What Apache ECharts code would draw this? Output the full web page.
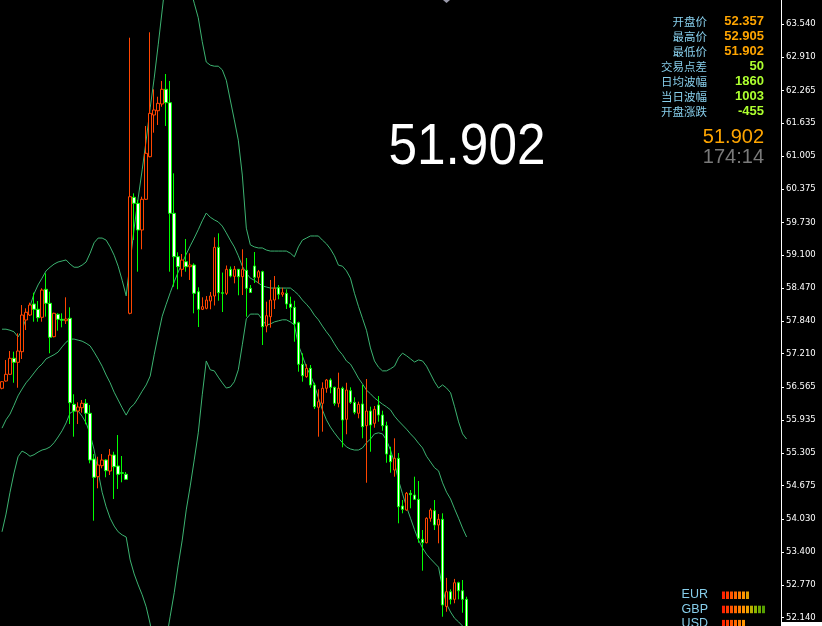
<!DOCTYPE html>
<html><head><meta charset="utf-8">
<style>html,body{margin:0;padding:0;background:#000;}#c{width:822px;height:626px;}</style>
<script src="https://cdn.jsdelivr.net/npm/echarts@6/dist/echarts.min.js"></script>
</head><body><div id="c"></div>
<script>
// ---- data ----
const slotCount = 195; // bar slots on the time axis (chart shift leaves the right part empty)
const priceTicks = [52.140,52.770,53.400,54.030,54.675,55.305,55.935,56.565,57.210,57.840,58.470,59.100,59.730,60.375,61.005,61.635,62.265,62.910,63.540];
const priceMin = 51.981, priceMax = 64.001;
// [open, close, low, high]
const candles = [
[56.545,56.672,56.526,56.685],[56.685,56.814,56.672,57.088],[56.814,57.121,56.800,57.261],[57.121,57.044,56.652,57.248],[57.044,57.261,56.556,57.601],
[57.248,57.952,57.108,58.144],[57.856,58.004,57.664,58.081],[57.952,58.144,57.933,58.189],[58.164,58.062,57.824,58.381],[58.062,57.901,57.824,58.221],
[57.908,58.432,57.824,58.465],[58.446,58.177,57.920,58.753],[58.177,57.524,57.217,58.400],[57.536,57.985,57.524,57.997],[57.966,57.870,57.651,57.985],
[57.870,57.851,57.716,57.985],[57.843,57.876,57.780,58.292],[57.889,56.268,55.859,58.100],[56.238,56.109,55.616,56.430],[56.109,56.186,55.859,56.276],
[56.172,56.257,56.077,56.320],[56.257,56.065,55.854,56.339],[56.065,55.168,55.105,56.224],[55.187,54.836,54.003,55.283],[54.848,55.072,54.625,55.231],
[55.059,55.168,55.009,55.283],[55.168,54.963,54.836,55.182],[54.957,55.264,54.880,55.379],[55.264,55.040,54.419,55.327],[55.053,54.894,54.611,55.648],
[54.924,54.913,54.740,55.245],[54.894,54.797,54.784,54.938],[57.985,60.224,57.966,63.277],[60.212,60.097,59.393,60.289],[60.097,59.585,58.784,60.161],
[59.585,60.174,59.214,60.224],[60.174,61.057,60.161,61.582],[60.992,61.825,60.981,63.381],[61.793,61.889,61.453,62.286],[61.875,62.017,61.601,62.144],
[62.004,62.286,61.952,62.446],[62.286,62.029,61.582,62.580],[62.029,59.905,58.784,62.446],[59.905,59.072,58.496,60.673],[59.072,58.880,58.446,59.156],
[58.830,59.008,58.688,59.124],[58.976,58.880,58.784,59.412],[58.880,58.912,58.625,59.137],[58.912,58.369,57.985,58.945],[58.400,58.062,57.722,58.484],
[58.062,58.112,58.048,58.292],[58.081,58.240,58.062,58.317],[58.221,58.317,58.062,58.394],[58.317,59.252,58.135,59.444],[59.252,58.381,58.227,59.521],
[58.381,58.369,58.010,58.768],[58.369,58.830,58.336,58.903],[58.830,58.701,58.676,58.884],[58.695,58.830,58.561,58.893],[58.830,58.688,58.331,58.830],
[58.688,58.830,58.336,59.214],[58.811,58.465,57.920,59.047],[58.465,58.385,58.375,58.528],[58.893,58.676,58.567,59.162],[58.676,58.784,58.557,58.817],
[58.784,57.728,57.376,58.803],[57.741,57.939,57.620,58.208],[57.920,58.240,57.709,58.625],[58.240,58.465,58.068,58.701],[58.477,58.350,58.254,58.528],
[58.350,58.381,58.304,58.477],[58.369,58.164,58.068,58.446],[58.164,58.100,57.856,58.304],[58.100,57.780,57.440,58.227],[57.805,57.006,56.864,57.824],
[57.006,56.787,56.672,57.217],[56.768,56.929,56.748,57.006],[56.929,56.608,56.556,56.992],[56.608,56.192,56.147,56.652],[56.180,56.288,55.616,56.526],
[56.257,56.545,55.712,56.660],[56.545,56.704,56.460,56.723],[56.704,56.564,56.449,56.737],[56.564,56.257,56.211,56.576],[56.257,56.545,56.180,56.845],
[56.545,55.936,55.412,56.576],[55.950,56.512,55.662,56.652],[56.499,56.276,56.244,56.564],[56.276,56.084,56.045,56.372],[56.065,56.238,55.969,56.288],
[56.244,55.808,55.585,56.608],[55.827,56.109,54.732,56.723],[56.109,55.840,55.327,56.192],[55.873,56.142,55.788,56.205],[56.224,56.032,55.904,56.397],
[56.032,55.827,55.731,56.115],[55.827,55.283,55.116,55.904],[55.264,55.135,54.924,55.423],[54.976,55.201,54.848,55.585],[55.201,54.271,53.953,55.302],
[54.285,54.221,54.145,54.400],[54.208,54.529,54.195,54.554],[54.529,54.502,54.241,54.592],[54.496,54.413,54.400,54.848],[54.413,53.665,53.580,54.765],
[53.645,53.580,53.043,53.824],[53.580,54.049,53.569,54.068],[54.049,54.208,53.983,54.241],[54.195,53.920,53.824,54.400],[53.920,54.030,53.569,54.131],
[54.030,52.384,52.159,54.145],[52.357,52.639,52.255,52.905],[52.639,52.493,52.397,52.685],[52.493,52.812,52.417,52.885],[52.812,52.658,52.493,52.831],
[52.658,52.493,52.236,52.864],[52.493,51.902,51.902,52.543]
];
const upperBand = [
57.68,57.68,57.66,57.63,57.53,57.66,57.89,58.12,58.36,58.53,
58.66,58.80,58.87,58.93,58.97,58.99,59.01,58.93,58.87,58.87,
58.91,58.97,59.14,59.34,59.43,59.43,59.39,59.26,59.10,58.89,
58.62,58.32,58.97,59.62,60.20,60.74,61.31,61.93,62.50,63.14,
63.81,64.48,64.96,65.25,65.35,65.15,64.77,64.23,63.94,63.66,
63.20,62.81,62.75,62.73,62.73,62.66,62.46,62.08,61.70,61.31,
60.64,59.62,59.30,59.26,59.24,59.24,59.20,59.18,59.18,59.18,
59.18,59.18,59.14,59.07,59.26,59.39,59.43,59.47,59.47,59.47,
59.39,59.32,59.22,59.09,58.91,58.89,58.80,58.66,58.37,58.12,
57.89,57.66,57.32,57.07,56.95,56.88,56.88,56.92,56.97,57.13,
57.22,57.17,57.11,57.05,57.09,57.07,56.97,56.82,56.67,56.55,
56.61,56.55,56.46,56.19,55.90,55.67,55.57];
const middleBand = [
55.78,55.94,56.05,56.22,56.40,56.53,56.65,56.74,56.84,56.94,
57.01,57.11,57.15,57.19,57.24,57.34,57.43,57.49,57.49,57.47,
57.45,57.41,57.36,57.24,57.11,56.97,56.80,56.65,56.47,56.32,
56.17,56.03,56.17,56.24,56.36,56.49,56.61,56.78,57.19,57.57,
57.93,58.16,58.38,58.59,58.78,58.95,59.12,59.28,59.43,59.59,
59.76,59.91,59.83,59.78,59.74,59.66,59.53,59.39,59.26,59.09,
58.89,58.76,58.66,58.62,58.57,58.51,58.49,58.47,58.47,58.47,
58.47,58.47,58.47,58.41,58.34,58.24,58.16,58.07,57.95,57.86,
57.74,57.63,57.53,57.40,57.28,57.19,57.07,57.01,56.88,56.74,
56.63,56.51,56.44,56.36,56.30,56.24,56.19,56.13,56.01,55.92,
55.84,55.76,55.67,55.59,55.49,55.40,55.24,55.13,55.02,54.96,
54.73,54.55,54.42,54.23,54.05,53.86,53.69];
const lowerBand = [
53.79,54.13,54.55,54.92,55.23,55.34,55.30,55.24,55.27,55.32,
55.36,55.38,55.42,55.50,55.61,55.73,55.88,56.07,56.11,56.11,
56.01,55.88,55.67,55.36,54.94,54.55,54.27,54.05,53.90,53.79,
53.73,53.69,53.25,52.98,52.77,52.58,52.35,52.02,51.52,50.94,
50.75,51.71,52.17,52.62,53.15,53.63,54.21,54.67,55.17,55.69,
56.42,57.07,56.90,56.88,56.76,56.65,56.55,56.57,56.67,56.90,
57.38,57.88,57.97,57.97,57.97,57.86,57.76,57.78,57.82,57.84,
57.86,57.86,57.82,57.76,57.38,57.17,56.95,56.80,56.61,56.36,
56.13,55.94,55.80,55.69,55.59,55.50,55.42,55.38,55.36,55.36,
55.40,55.50,55.57,55.67,55.69,55.67,55.55,55.36,55.11,54.78,
54.52,54.27,54.05,53.83,53.63,53.48,53.36,53.27,53.19,53.11,
52.71,52.40,52.25,52.13,52.06,51.98,51.90];
const infoLabels = ['开盘价','最高价','最低价','交易点差','日均波幅','当日波幅','开盘涨跌'];
const infoValues = ['52.357','52.905','51.902','50','1860','1003','-455'];
const bidText = '51.902';
const timeLeft = '174:14';
const strengthNames = ['EUR','GBP','USD'];
const strengthLevels = [7, 11, 6];

// ---- chart ----
const slots = Array.from({length: slotCount}, (_, i) => String(i));
const chart = echarts.init(document.getElementById('c'), null, {renderer: 'canvas'});

const g = [];
const labelFont = '"Noto Sans CJK SC", sans-serif';
infoLabels.forEach((t, k) => {
  const y = 21.5 + 15 * k;
  g.push({type: 'text', x: 707, y: y, style: {text: t, fill: '#87CEEB', font: '11.5px ' + labelFont, textAlign: 'right', textVerticalAlign: 'middle'}});
  g.push({type: 'text', x: 764, y: y, style: {text: infoValues[k], fill: k < 3 ? '#FFA500' : '#ADFF2F', font: 'bold 13px "Liberation Sans", sans-serif', textAlign: 'right', textVerticalAlign: 'middle'}});
});
g.push({type: 'text', x: 764, y: 137, style: {text: bidText, fill: '#FFA500', font: '20px "Liberation Sans", sans-serif', textAlign: 'right', textVerticalAlign: 'middle'}});
g.push({type: 'text', x: 764, y: 157.5, style: {text: timeLeft, fill: '#7A7A7A', font: '20px "Liberation Sans", sans-serif', textAlign: 'right', textVerticalAlign: 'middle'}});
g.push({type: 'text', x: 467, y: 148, scaleX: 0.9, originX: 0, originY: 0, style: {text: bidText, fill: '#FFFFFF', font: '57px "Liberation Sans", sans-serif', textAlign: 'center', textVerticalAlign: 'middle'}});
g.push({type: 'polygon', shape: {points: [[443, 0], [450, 0], [446.5, 3]]}, style: {fill: '#9A9AAA'}});
g.push({type: 'rect', shape: {x: 781, y: 622, width: 41, height: 16}, style: {fill: '#FFFFFF'}});
const barColors = [
  ['#FF2200','#FF3A00','#FF5500','#FF6A00','#FF8000','#FF9500','#E0A000'],
  ['#FF2200','#FF3A00','#FF5500','#FF6A00','#FF8000','#FF9000','#F0A000','#B8B000','#8CB400','#6EAA00','#55A000'],
  ['#FF2200','#FF3A00','#FF5500','#FF6A00','#FF8000','#FF9500']
];
strengthNames.forEach((n, r) => {
  const y = 595 + 14.2 * r;
  g.push({type: 'text', x: 708, y: y, style: {text: n, fill: '#87CEEB', font: '12.5px "Liberation Sans", sans-serif', textAlign: 'right', textVerticalAlign: 'middle'}});
  for (let b = 0; b < strengthLevels[r]; b++) {
    g.push({type: 'rect', shape: {x: 722 + 4 * b, y: y - 3.5, width: 3, height: 7.5}, style: {fill: barColors[r][b]}});
  }
});

const bandStyle = {color: '#3CB371', width: 1};
chart.setOption({
  animation: false,
  backgroundColor: '#000000',
  grid: {left: 0, right: 41, top: 0, bottom: 0},
  xAxis: {type: 'category', data: slots, boundaryGap: true, show: false},
  yAxis: {
    type: 'value', position: 'right', min: priceMin, max: priceMax,
    splitLine: {show: false},
    axisLine: {show: true, lineStyle: {color: '#FFFFFF', width: 1}},
    axisTick: {show: true, length: 3, lineStyle: {color: '#FFFFFF'}, customValues: priceTicks},
    axisLabel: {customValues: priceTicks, formatter: v => v.toFixed(3), color: '#FFFFFF', fontFamily: 'DejaVu Sans', fontSize: 8.5, margin: 5}
  },
  series: [
    {type: 'line', data: upperBand, showSymbol: false, lineStyle: bandStyle, z: 1, silent: true},
    {type: 'line', data: middleBand, showSymbol: false, lineStyle: bandStyle, z: 1, silent: true},
    {type: 'line', data: lowerBand, showSymbol: false, lineStyle: bandStyle, z: 1, silent: true},
    {type: 'candlestick', data: candles, barWidth: 3, z: 2,
     itemStyle: {color: '#000000', color0: '#FFFFFF', borderColor: '#FF4500', borderColor0: '#00FF00', borderColorDoji: '#00FF00', borderWidth: 1}}
  ],
  graphic: {elements: g}
});
</script></body></html>
